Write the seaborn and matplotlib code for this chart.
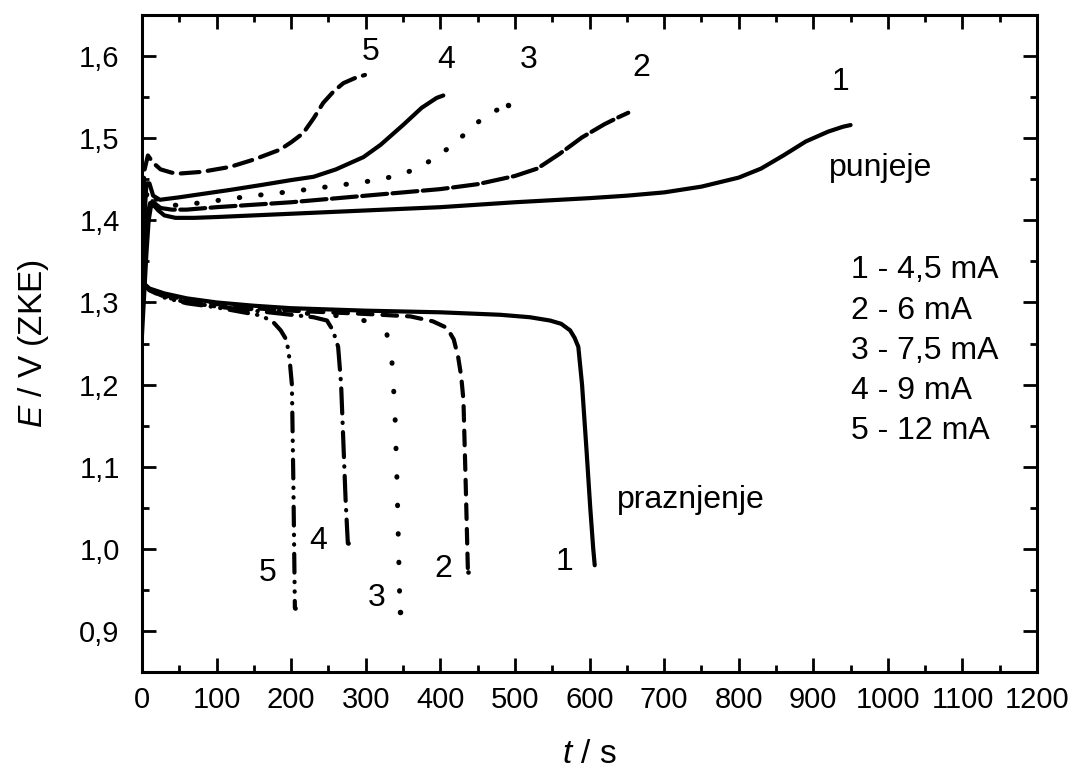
import numpy as np
import pandas as pd
import seaborn as sns
import matplotlib.pyplot as plt
from matplotlib.ticker import MultipleLocator, FixedLocator

# vrijednosti ocitane sa slike (t / s, E / V)
# punjenje
t_pun_1 = [0, 3, 6, 9, 12, 16, 22, 30, 45, 70, 100, 150, 200, 300, 400, 500, 600, 650, 700, 750, 800, 830, 860, 890, 920, 940, 950]
E_pun_1 = [1.26, 1.31, 1.36, 1.40, 1.417, 1.418, 1.412, 1.406, 1.403, 1.403, 1.404, 1.406, 1.408, 1.412, 1.416, 1.422, 1.427, 1.430, 1.434, 1.441, 1.452, 1.463, 1.479, 1.496, 1.508, 1.514, 1.516]
t_pun_2 = [0, 4, 8, 12, 18, 25, 40, 60, 100, 150, 200, 250, 300, 350, 400, 450, 500, 530, 560, 590, 620, 640, 652]
E_pun_2 = [1.28, 1.35, 1.41, 1.425, 1.42, 1.415, 1.413, 1.413, 1.416, 1.419, 1.422, 1.426, 1.430, 1.434, 1.438, 1.444, 1.454, 1.463, 1.481, 1.501, 1.517, 1.526, 1.531]
t_pun_3 = [0, 3, 6, 10, 15, 25, 50, 100, 150, 200, 250, 300, 330, 360, 390, 420, 445, 470, 491]
E_pun_3 = [1.30, 1.38, 1.43, 1.44, 1.43, 1.42, 1.418, 1.424, 1.430, 1.435, 1.441, 1.447, 1.452, 1.460, 1.474, 1.494, 1.516, 1.532, 1.540]
t_pun_4 = [0, 3, 6, 10, 15, 24, 50, 80, 118, 160, 200, 230, 260, 297, 320, 350, 375, 395, 404]
E_pun_4 = [1.31, 1.40, 1.445, 1.445, 1.43, 1.425, 1.428, 1.432, 1.437, 1.443, 1.449, 1.453, 1.462, 1.477, 1.492, 1.516, 1.537, 1.549, 1.552]
t_pun_5 = [0, 3, 8, 15, 25, 40, 51, 80, 118, 150, 185, 200, 216, 230, 243, 257, 270, 285, 299]
E_pun_5 = [1.33, 1.46, 1.479, 1.47, 1.462, 1.458, 1.457, 1.459, 1.465, 1.474, 1.486, 1.495, 1.506, 1.524, 1.543, 1.557, 1.567, 1.573, 1.577]

# praznjenje
t_pra_1 = [0, 10, 30, 60, 100, 150, 200, 300, 400, 480, 520, 547, 562, 574, 580, 585, 590, 596, 601, 605, 607]
E_pra_1 = [1.325, 1.317, 1.311, 1.305, 1.300, 1.296, 1.293, 1.290, 1.288, 1.285, 1.282, 1.278, 1.274, 1.266, 1.257, 1.246, 1.20, 1.12, 1.05, 1.00, 0.98]
t_pra_2 = [0, 10, 30, 60, 100, 150, 200, 300, 360, 390, 409, 418, 424, 428, 431, 434, 437]
E_pra_2 = [1.325, 1.316, 1.309, 1.303, 1.298, 1.293, 1.290, 1.286, 1.283, 1.277, 1.269, 1.255, 1.233, 1.21, 1.181, 1.08, 0.972]
t_pra_3 = [0, 10, 30, 60, 100, 150, 200, 250, 280, 306, 320, 328, 335, 339, 342, 344, 346]
E_pra_3 = [1.325, 1.316, 1.308, 1.302, 1.297, 1.292, 1.288, 1.285, 1.282, 1.276, 1.270, 1.263, 1.23, 1.17, 1.08, 1.00, 0.923]
t_pra_4 = [0, 10, 30, 60, 100, 150, 200, 230, 248, 256, 263, 267, 270, 273, 276]
E_pra_4 = [1.325, 1.315, 1.307, 1.300, 1.295, 1.290, 1.285, 1.282, 1.278, 1.266, 1.246, 1.20, 1.13, 1.06, 1.007]
t_pra_5 = [0, 10, 30, 60, 100, 130, 160, 176, 186, 194, 198, 201, 203, 205]
E_pra_5 = [1.325, 1.315, 1.306, 1.299, 1.294, 1.289, 1.284, 1.276, 1.266, 1.254, 1.23, 1.20, 1.08, 0.928]

x_ticks = [0, 100, 200, 300, 400, 500, 600, 700, 800, 900, 1000, 1100, 1200]
y_ticks = [0.9, 1.0, 1.1, 1.2, 1.3, 1.4, 1.5, 1.6]
y_tick_labels = ['0,9', '1,0', '1,1', '1,2', '1,3', '1,4', '1,5', '1,6']
legend_lines = ['1 - 4,5 mA', '2 - 6 mA', '3 - 7,5 mA', '4 - 9 mA', '5 - 12 mA']

sns.set_theme(style='ticks')
plt.rcParams['font.family'] = ['Liberation Sans', 'DejaVu Sans']
plt.rcParams['mathtext.fontset'] = 'custom'
plt.rcParams['mathtext.rm'] = 'Liberation Sans'
plt.rcParams['mathtext.it'] = 'Liberation Sans:italic'
plt.rcParams['lines.dash_capstyle'] = 'round'
plt.rcParams['lines.solid_capstyle'] = 'round'
plt.rcParams['text.color'] = 'black'
plt.rcParams['axes.labelcolor'] = 'black'

fig = plt.figure(figsize=(10.73, 7.69), dpi=100)
ax = fig.add_axes([0.1323, 0.1261, 0.8342, 0.8544])

lw = 3.0
# (t, E, stil linije, debljina, tocka na kraju)
krivulje = [
    (t_pun_1, E_pun_1, '-', lw, False),
    (t_pun_2, E_pun_2, (0, (6, 1.3)), lw, False),
    (t_pun_3, E_pun_3, (0, (0.1, 4.2)), 3.6, True),
    (t_pun_4, E_pun_4, '-', lw, False),
    (t_pun_5, E_pun_5, (0, (4.5, 2)), lw, False),
    (t_pra_1, E_pra_1, '-', lw, False),
    (t_pra_2, E_pra_2, (0, (3.5, 2.4)), lw, True),
    (t_pra_3, E_pra_3, (0, (0.1, 5.6)), 3.6, True),
    (t_pra_4, E_pra_4, (0, (6, 2.2, 0.1, 2.2)), lw, True),
    (t_pra_5, E_pra_5, (0, (4.5, 2.2, 0.1, 2.2, 0.1, 2.2)), lw, True),
]
for t, E, ls, w, kraj in krivulje:
    df = pd.DataFrame({'t': t, 'E': E})
    kw = {}
    if kraj:
        kw = dict(marker='o', markevery=[len(t) - 1], markersize=w * 1.1,
                  markeredgewidth=0, markerfacecolor='black')
    sns.lineplot(data=df, x='t', y='E', sort=False, estimator=None, ax=ax,
                 color='black', lw=w, linestyle=ls, **kw)

ax.set_xlim(0, 1200)
ax.set_ylim(0.85, 1.65)
ax.xaxis.set_major_locator(FixedLocator(x_ticks))
ax.xaxis.set_minor_locator(MultipleLocator(50))
ax.yaxis.set_major_locator(FixedLocator(y_ticks))
ax.set_yticklabels(y_tick_labels)
ax.yaxis.set_minor_locator(MultipleLocator(0.05))
ax.tick_params(which='both', direction='in', top=True, right=True, width=2,
               labelsize=21, colors='black')
ax.tick_params(which='major', length=10)
ax.tick_params(axis='y', which='major', pad=16)
ax.tick_params(axis='x', which='major', pad=10)
ax.tick_params(which='minor', length=5)
for s in ax.spines.values():
    s.set_linewidth(2.2)
    s.set_color('black')

ax.set_xlabel('$t$ / s', fontsize=24, labelpad=18)
ax.set_ylabel('$E$ / V (ZKE)', fontsize=24, labelpad=20)

fs = 23
# brojevi iznad krivulja punjenja
for txt, x, y in [('5', 307, 1.605), ('4', 408, 1.595), ('3', 518, 1.595), ('2', 670, 1.585), ('1', 936, 1.568)]:
    ax.text(x, y, txt, fontsize=fs, ha='center', va='center')
# brojevi ispod krivulja praznjenja
for txt, x, y in [('1', 567, 0.984), ('2', 404, 0.976), ('3', 315, 0.94), ('4', 236, 1.01), ('5', 169, 0.97)]:
    ax.text(x, y, txt, fontsize=fs, ha='center', va='center')

ax.text(990, 1.464, 'punjeje', fontsize=fs, ha='center', va='center')
ax.text(637, 1.059, 'praznjenje', fontsize=fs, ha='left', va='center')
for i, line in enumerate(legend_lines):
    ax.text(950, 1.339 - i * 0.0489, line, fontsize=fs, ha='left', va='center')

fig.savefig('out.png', dpi=100)
